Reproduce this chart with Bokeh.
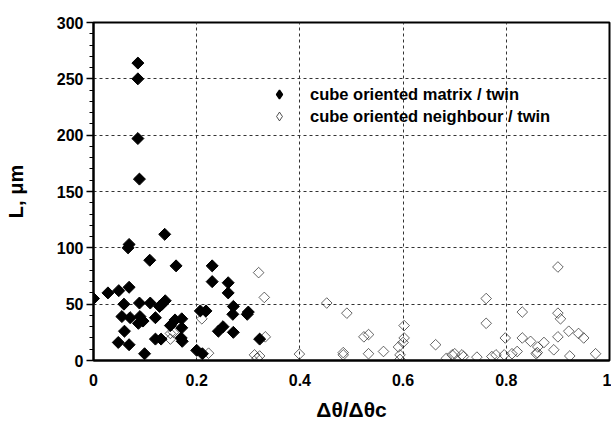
import math
from bokeh.plotting import figure
from bokeh.models import Range1d, FixedTicker, Legend, LegendItem
from bokeh.embed import file_html
from bokeh.resources import INLINE

# cube oriented matrix / twin (filled)
matrix_x = [0.0, 0.028, 0.049, 0.069, 0.067, 0.069, 0.138, 0.109, 0.16, 0.059,
            0.089, 0.11, 0.128, 0.139, 0.133, 0.055, 0.071, 0.09, 0.096, 0.087,
            0.12, 0.06, 0.048, 0.069, 0.099, 0.12, 0.131, 0.149, 0.158, 0.171,
            0.171, 0.17, 0.172, 0.2, 0.211, 0.207, 0.218, 0.23, 0.23, 0.261,
            0.261, 0.271, 0.27, 0.30, 0.298, 0.242, 0.251, 0.271, 0.322, 0.086,
            0.086, 0.086, 0.089]
matrix_y = [55, 60, 62, 65, 100, 103, 112, 89, 84, 50,
            51, 51, 48, 53, 50, 39, 38, 39, 35, 33,
            38, 26, 16, 14, 6, 19, 19, 31, 36, 37,
            29, 20, 17, 9, 6, 44, 44, 84, 70, 69,
            60, 48, 41, 43, 41, 26, 30, 25, 19, 264,
            250, 197, 161]

# cube oriented neighbour / twin (open)
neigh_x = [0.32, 0.331, 0.21, 0.149, 0.155, 0.149, 0.171, 0.223, 0.333, 0.312,
           0.322, 0.317, 0.399, 0.452, 0.491, 0.524, 0.533, 0.484, 0.484, 0.533,
           0.562, 0.591, 0.594, 0.594, 0.602, 0.602, 0.6, 0.663, 0.684, 0.695,
           0.70, 0.714, 0.717, 0.743, 0.761, 0.761, 0.772, 0.78, 0.798, 0.796,
           0.811, 0.821, 0.831, 0.831, 0.847, 0.858, 0.861, 0.873, 0.892, 0.9,
           0.9, 0.905, 0.9, 0.921, 0.923, 0.94, 0.95, 0.973, 0.86]
neigh_y = [78, 56, 37, 24, 25, 19, 17, 6.5, 21, 5,
           4, 2, 5.7, 51, 42, 21, 23, 7, 5, 6,
           8, 12, 5, 1, 31, 20, 16, 14, 2, 5,
           6, 5, 3.5, 3, 55, 33, 3.5, 5, 20, 5,
           6, 8, 43, 20, 17, 6, 12, 16, 9.5, 83,
           42, 37, 21, 26, 4, 24, 20, 6, 7]

x_ticks = [0, 0.2, 0.4, 0.6, 0.8, 1.0]
x_tick_labels = ["0", "0.2", "0.4", "0.6", "0.8", "1"]
y_ticks = [0, 50, 100, 150, 200, 250, 300]

p = figure(width=611, height=423, output_backend="svg", toolbar_location=None,
           x_range=Range1d(0, 1), y_range=Range1d(0, 300),
           min_border_left=93, min_border_right=2, min_border_top=22,
           min_border_bottom=62)
p.background_fill_color = "white"
p.border_fill_color = "white"
p.outline_line_color = "black"
p.outline_line_width = 2
# an off-screen range used only to host the legend key glyphs
p.extra_y_ranges = {"legend_keys": Range1d(10000, 20000)}

FONT = "Liberation Sans"

p.xaxis.ticker = FixedTicker(ticks=x_ticks)
p.xaxis.major_label_overrides = {t: l for t, l in zip(x_ticks, x_tick_labels)}
p.xaxis.major_tick_line_color = None
p.xaxis.minor_tick_line_color = None
p.xaxis.axis_line_width = 2
p.xaxis.axis_line_color = "black"
p.xaxis.major_label_text_font = FONT
p.xaxis.major_label_text_font_style = "bold"
p.xaxis.major_label_text_font_size = "16px"
p.xaxis.major_label_text_color = "black"
p.xaxis.major_label_standoff = 7
p.xaxis.axis_label = "Δθ/Δθc"
p.xaxis.axis_label_text_font = FONT
p.xaxis.axis_label_text_font_style = "bold"
p.xaxis.axis_label_text_font_size = "21px"
p.xaxis.axis_label_text_color = "black"
p.xaxis.axis_label_standoff = 9

p.yaxis.ticker = FixedTicker(ticks=y_ticks, minor_ticks=list(range(0, 301, 10)))
p.yaxis.axis_line_width = 2
p.yaxis.axis_line_color = "black"
p.yaxis.major_tick_in = 0
p.yaxis.major_tick_out = 7
p.yaxis.minor_tick_in = 0
p.yaxis.minor_tick_out = 4
p.yaxis.major_tick_line_width = 1.5
p.yaxis.minor_tick_line_width = 1
p.yaxis.major_label_text_font = FONT
p.yaxis.major_label_text_font_style = "bold"
p.yaxis.major_label_text_font_size = "16px"
p.yaxis.major_label_text_color = "black"
p.yaxis.major_label_standoff = 3
p.yaxis.axis_label = "L, μm"
p.yaxis.axis_label_text_font = FONT
p.yaxis.axis_label_text_font_style = "bold"
p.yaxis.axis_label_text_font_size = "20px"
p.yaxis.axis_label_text_color = "black"
p.yaxis.axis_label_standoff = 27

p.xgrid.ticker = FixedTicker(ticks=[0.2, 0.4, 0.6, 0.8])
p.ygrid.ticker = FixedTicker(ticks=[50, 100, 150, 200, 250])
for g in (p.xgrid, p.ygrid):
    g.grid_line_color = "#333333"
    g.grid_line_dash = "3 3"
    g.grid_line_width = 1

r_open = p.scatter(neigh_x, neigh_y, marker="square", angle=math.pi / 4, size=7.5,
                   fill_alpha=0, line_color="#222222", line_width=0.7)
r_fill = p.scatter(matrix_x, matrix_y, marker="square", angle=math.pi / 4, size=8.5,
                   fill_color="black", line_color="black", line_width=1)

# legend keys: same data on an off-screen range (clipped), diamond key shape
leg_fill = p.scatter(matrix_x, matrix_y, marker="diamond", y_range_name="legend_keys",
                     fill_color="black", line_color="black", line_width=1.5)
leg_open = p.scatter(neigh_x, neigh_y, marker="diamond", y_range_name="legend_keys",
                     fill_alpha=0, line_color="#222222", line_width=0.8)

legend = Legend(items=[LegendItem(label="cube oriented matrix / twin", renderers=[leg_fill]),
                       LegendItem(label="cube oriented neighbour / twin", renderers=[leg_open])],
                location=(175, 233), orientation="vertical")
legend.background_fill_alpha = 0
legend.border_line_color = None
legend.padding = 0
legend.margin = 0
legend.spacing = 0
legend.glyph_width = 22
legend.glyph_height = 22
legend.label_standoff = 20
legend.label_text_font = FONT
legend.label_text_font_style = "bold"
legend.label_text_font_size = "16.5px"
legend.label_text_color = "black"
legend.label_height = 20
p.add_layout(legend, "center")

open("out.html", "w").write(file_html(p, INLINE))
